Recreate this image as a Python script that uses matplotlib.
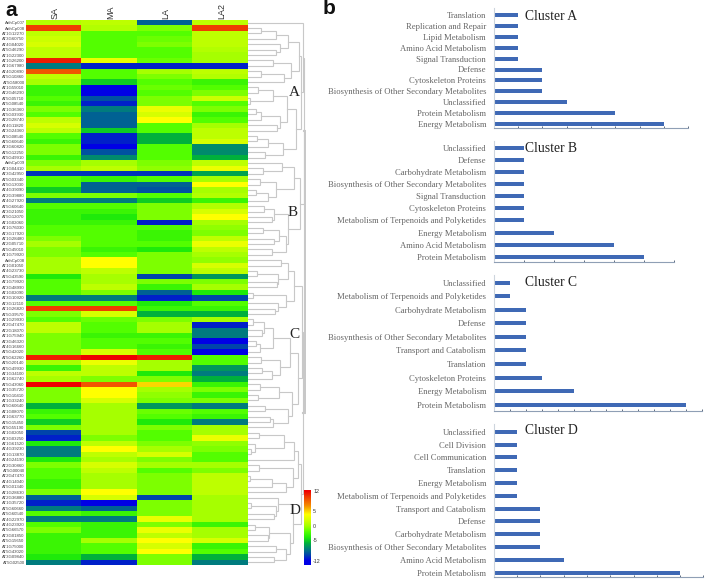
import numpy as np
import matplotlib
matplotlib.use('Agg')
import matplotlib.pyplot as plt
from matplotlib.colors import LinearSegmentedColormap, Normalize

W, H = 709, 586

# heat map values, one list per condition
conditions = ['SA', 'MA', 'LA', 'LA2']
genes = ['ArthCp007', 'ArthCp008', 'AT1G12270', 'AT3G60750', 'AT4G04020', 'AT5G46290', 'AT1G22300', 'AT1G26200', 'AT1G67980', 'AT4G20890',
         'AT5G10860', 'AT5G58000', 'AT1G55010', 'AT2G46290', 'AT5G05710', 'AT5G08540', 'AT1G36360', 'AT5G03930', 'AT2G28740', 'AT4G11820',
         'AT3G24360', 'AT5G08540', 'AT5G60640', 'AT3G60820', 'AT5G12250', 'AT5G49910', 'ArthCp009', 'AT1G04410', 'AT3G42950', 'AT5G03340',
         'AT5G13030', 'AT4G39090', 'AT2G39880', 'AT4G27920', 'AT5G60640', 'AT3G21050', 'AT5G12070', 'AT1G02060', 'AT1G76030', 'AT3G17920',
         'AT1G28480', 'AT2G05710', 'AT5G45010', 'AT1G79920', 'ArthCp008', 'AT1G01050', 'AT4G23730', 'AT5G43590', 'AT1G79920', 'AT3G48990',
         'AT1G02090', 'AT3G10920', 'AT3G12110', 'AT1G26820', 'AT5G39570', 'AT1G29930', 'AT2G47470', 'AT2G18070', 'AT1G75940', 'AT3G46320',
         'AT4G16660', 'AT5G42020', 'AT5G62260', 'AT5G20140', 'AT5G49930', 'AT1G34100', 'AT1G62740', 'AT5G43060', 'AT1G35720', 'AT5G10410',
         'AT1G33240', 'AT5G60640', 'AT1G08070', 'AT1G63770', 'AT5G15450', 'AT5G55190', 'AT1G02050', 'AT3G03250', 'AT1G61520', 'AT4G39230',
         'AT1G13870', 'AT4G24190', 'AT2G30860', 'AT5G00040', 'AT2G47470', 'AT4G14040', 'AT5G01340', 'AT1G28630', 'AT2G36880', 'AT1G35720',
         'AT5G60660', 'AT5G60540', 'AT4G22970', 'AT4G23920', 'AT5G66570', 'AT3G01850', 'AT5G15650', 'AT1G75000', 'AT5G43020', 'AT3G09840',
         'AT5G02500']
sa = [0.5, 10, 1, 1.5, 2, 1, 1, 11, -8, 9,
      1, 0, -3, -3, -2, -3, -1, -2, 1, 2,
      1, -2, -3, -1, -1, -3, -1, 0, -10.5, -2,
      -2, -5, -1, -8, -2, -3, -3, -3, -2, -2,
      -1, 0, -1, -1, 0, 0, 0, -4, -2, -2,
      -2, -8, -2, 10, -1, -2, 1, 1, -1, -1,
      -1, -1, 11, 0, -3, 1, 0, 12, -1, -1,
      -1, -6, -3, -2, -5, -1, -10, -11, -4, -8,
      -8, -4, -1, -2, -2, -3, -3, -1, -9, -11,
      -8, -2, -8, -2, -1, -3, -3, -3, -3, -4,
      -8]
ma = [1, 0.5, -2, -2, -2, -2, -2, 3, -11, -2,
      -2, -5, -12, -12, -9.5, -11, -8, -9, -9, -9,
      -5, -11, -11, -12, -9.5, -7.5, 0, 1, -10.5, -3,
      -9, -9, -1, -8, -2, -3, -4, -3, -2, -2,
      -2, -2, -3, -2, 4, 4, 1, 0, 0, 1,
      -1, -8, -2, 10, 2, -1.5, -2, -2, -3, -2,
      -2, 2, 12, 3, 1, 1, -1, 9, 4, 4,
      2, 0, 0, 0, 0, 0, 0, -1, 1, 4,
      1, 0, 2, 1, 0, 0, 0, 4, 2, -12,
      -9, -3, -8, -3, -3, -3, 0, -2, -2, -6,
      -11]
la = [-9, -1, -2, -1.5, -1, -2, -2, -1.5, -11, 0,
      -1, -2, -1.5, -2, -1, -1, 3, 2, 4, -2,
      -2, -6, -6, -2, -2, -2, -1, -0.5, -10.5, -2,
      -9, -9.5, -2, -5, -1, -1, -1, -11, -2, -3,
      -3, -2, -4, -1, -1, -1, -1, -10, -1, -3,
      -9, -11, -4, -3, -6, -1, 0, 0, -3, -2,
      -3, -2, 11, 0, 0, -4, -1, 5, 0, -0.5,
      -1, -7, -1.5, -2, -4, -1, -2, -2, -1, 0,
      2, -1, 0, -2, -1, -1, -1, -1, -10, -1,
      -1, -1, 3, -1, 3, 1, 4, 2, 4, -1,
      -1]
la2 = [1, 10, 1, 1, 1, 0.5, 0, 0, -11, 1,
       0.5, -3, -2, -1, 1.5, -2, -1, -3, -2, 0,
       1, 1, 2, -7.5, -7.5, -6, 1, 3, -6.5, 0,
       4, 0, 0.5, -3, 0.5, 2, 4, 0, -0.5, -1,
       1, 3, 1, 0, -0.5, 2, 1, -7, -1, 0,
       -4, -10, -2, -3, -6, 0, -11, -8, -8, -12,
       -10, -12, -2, -2, -7, -8, -6, -3, -1, -3,
       -1, -8, -2, -3, -8, 0, 0, 3, -0.5, -1,
       -2, -2, 0, -1, 1, 1, 1, 1, 0, 0,
       0, 0, 0, -3, 0, 0, 2, -3, -2, -6,
       -8]
colorbar_ticks = [12, 5, 0, -5, -12]

# dendrogram, each node is [height, upper child, lower child], a number is a gene row
tree_a = [55, 0, [53,
                  [51, [40, [28, [13, 1, 2], 3], [32, 4, [28, 5, 6]]],
                   [43, [25, 7, 8], [36, [13, 9, 10], 11]]],
                  [48, [39, [25, [10, 12, 13], [2, 14, 15]], [32, [13, [8, 16, 17], 18], [29, 19, 20]]],
                   [35, [20, [9, 21, 22], 23], [17, 24, 25]]]]]
tree_b = [52, [46, [34, 26, [15, 27, 28]], [28, [12, 29, 30], [20, [8, 31, 32], 33]]],
          [40, [26, [16, 34, 35], [24, 36, 37]], [38, [31, [15, 38, 39], [26, 40, 41]], [24, 42, 43]]]]
tree_c = [54, [46, [40, [33, 44, 45], [30, [9, 46, 47], [29, 48, 49]]],
               [38, [5, 50, 51], [30, 52, [27, 53, 54]]]],
          [50, [42, [25, [16, [5, 55, 56], [14, 57, 58]], [12, [8, 59, 60], 61]],
                [32, [13, 62, 63], [24, [14, 64, 65], 66]]],
           [44, [31, [12, 67, 68], [10, 69, 70]], [40, [17, 71, 72], [25, [22, 73, 74], 75]]]]]
tree_d = [53, [50, [46, [36, [11, 76, 77], [7, 78, [3, 79, 80]]], 81],
               [45, [11, 82, 83], [38, [24, [2, 84, 85], 86], 87]]],
          [45, [30, 88, [28, [3, 89, 90], [26, 91, 92]]],
           [42, [21, [7, 93, 94], [20, 95, 96]], [38, [28, 97, 98], [26, 99, 100]]]]]
tree_root = [57, [55.5, tree_a, tree_b], [55, tree_c, tree_d]]

# bar chart data
cats_a = ['Translation', 'Replication and Repair', 'Lipid Metabolism', 'Amino Acid Metabolism', 'Signal Transduction',
          'Defense', 'Cytoskeleton Proteins', 'Biosynthesis of Other Secondary Metabolites', 'Unclassified',
          'Protein Metabolism', 'Energy Metabolism']
vals_a = [1, 1, 1, 1, 1, 2, 2, 2, 3, 5, 7]
cats_b = ['Unclassified', 'Defense', 'Carbohydrate Metabolism', 'Biosynthesis of Other Secondary Metabolites',
          'Signal Transduction', 'Cytoskeleton Proteins', 'Metabolism of Terpenoids and Polyketides',
          'Energy Metabolism', 'Amino Acid Metabolism', 'Protein Metabolism']
vals_b = [1, 1, 1, 1, 1, 1, 1, 2, 4, 5]
cats_c = ['Unclassified', 'Metabolism of Terpenoids and Polyketides', 'Carbohydrate Metabolism', 'Defense',
          'Biosynthesis of Other Secondary Metabolites', 'Transport and Catabolism', 'Translation',
          'Cytoskeleton Proteins', 'Energy Metabolism', 'Protein Metabolism']
vals_c = [1, 1, 2, 2, 2, 2, 2, 3, 5, 12]
cats_d = ['Unclassified', 'Cell Division', 'Cell Communication', 'Translation', 'Energy Metabolism',
          'Metabolism of Terpenoids and Polyketides', 'Transport and Catabolism', 'Defense', 'Carbohydrate Metabolism',
          'Biosynthesis of Other Secondary Metabolites', 'Amino Acid Metabolism', 'Protein Metabolism']
vals_d = [1, 1, 1, 1, 1, 1, 2, 2, 2, 2, 3, 8]

heat_cmap = LinearSegmentedColormap.from_list('heat', [
    (0.0, (0, 0, 0.9)), (2 / 24, (0, 0.27, 0.67)), (4 / 24, (0, 0.49, 0.49)), (6 / 24, (0, 0.69, 0.24)),
    (8 / 24, (0.12, 0.92, 0.04)), (10 / 24, (0.33, 1, 0)), (12 / 24, (0.65, 1, 0)), (14 / 24, (0.84, 1, 0)),
    (16 / 24, (1, 1, 0)), (19 / 24, (0.96, 0.55, 0)), (22 / 24, (0.94, 0.24, 0)), (1.0, (0.94, 0, 0))])
norm = Normalize(-12, 12)

fig = plt.figure(figsize=(W / 100, H / 100), dpi=100)


def px_axes(x0, y0, x1, y1):
    return fig.add_axes([x0 / W, 1 - y1 / H, (x1 - x0) / W, (y1 - y0) / H])


def px_text(x, y, s, **kw):
    return fig.text(x / W, 1 - y / H, s, **kw)


# panel a, heat map
ax = px_axes(26, 20, 247.5, 565)
matrix = np.array([sa, ma, la, la2]).T
ax.imshow(matrix, cmap=heat_cmap, norm=norm, aspect='auto', interpolation='nearest')
ax.set_xticks([])
ax.set_yticks(np.arange(len(genes)))
ax.set_yticklabels(genes, fontsize=3.1, color='#444444', family='Liberation Sans')
ax.tick_params(axis='y', length=0, pad=1)
for s in ax.spines.values():
    s.set_visible(False)
for i, name in enumerate(conditions):
    ax.text(i + 0.03, -0.7, name, rotation=90, ha='center', va='bottom', fontsize=6.5, color='#333333',
            family='Liberation Sans')

# dendrogram next to it
den = px_axes(248, 20, 306, 565)
den.set_xlim(0, 58)
den.set_ylim(len(genes) - 0.5, -0.5)
den.axis('off')
tree_color = '#c8c8c8'


def draw_node(node):
    if not isinstance(node, list):
        return 0, node
    h, up, low = node
    h1, y1 = draw_node(up)
    h2, y2 = draw_node(low)
    lw = 1.5 if node is tree_root else 0.8
    den.plot([h1, h, h, h2], [y1, y1, y2, y2], color=tree_color, lw=lw, solid_joinstyle='miter')
    return h, (y1 + y2) / 2


draw_node(tree_root)

for label, x, y in [('A', 294, 92), ('B', 293, 213), ('C', 294, 335), ('D', 295, 510)]:
    px_text(x, y, label, fontsize=11, family='Liberation Serif', color='#222222', ha='center', va='center')

# colour bar
cax = px_axes(304, 490, 311, 565)
scale = np.linspace(-13.4, 12.3, 200)
cax.imshow(scale[::-1, None], cmap=heat_cmap, norm=norm, aspect='auto', extent=[0, 1, -13.4, 12.3])
cax.set_xticks([])
cax.yaxis.tick_right()
cax.set_yticks(colorbar_ticks)
cax.set_yticklabels([str(v) for v in colorbar_ticks], fontsize=3.8, color='#333333', family='Liberation Sans')
cax.tick_params(axis='y', length=0, pad=1.5)
for s in cax.spines.values():
    s.set_visible(False)

# panel b, one bar chart per cluster
panels = [
    (cats_a, vals_a, 8, 24.3, 14.7, 124.3, 128, 'Cluster A', 17),
    (cats_b, vals_b, 6, 30.0, 148.0, 256.7, 262, 'Cluster B', 149),
    (cats_c, vals_c, 13, 16.0, 282.7, 404.7, 411, 'Cluster C', 283),
    (cats_d, vals_d, 9, 23.3, 431.7, 572.7, 577, 'Cluster D', 431),
]
x_left = 493.7
for cats, vals, xmax, tick_px, y_first, y_last, y_axis, title, title_y in panels:
    step = (y_last - y_first) / (len(cats) - 1)
    y_top = y_first - step * 0.6
    axb = px_axes(x_left, y_top, x_left + xmax * tick_px, y_axis)
    pos = np.arange(len(cats))
    axb.barh(pos, vals, height=4 / step, color='#3f69b5')
    axb.set_xlim(0, xmax)
    axb.set_ylim((y_axis - y_first) / step, (y_top - y_first) / step)
    axb.set_xticks(np.arange(xmax + 1))
    axb.set_xticklabels([])
    axb.tick_params(axis='x', length=1.5, width=0.6, color='#44546a', direction='in', pad=0)
    axb.set_yticks(pos)
    axb.set_yticklabels(cats, fontsize=6.2, color='#666666', family='Liberation Serif')
    axb.tick_params(axis='y', length=0, pad=5.5)
    for side in ['top', 'right']:
        axb.spines[side].set_visible(False)
    axb.spines['left'].set_color('#cdd5dd')
    axb.spines['left'].set_linewidth(0.8)
    axb.spines['bottom'].set_color('#8f9fb5')
    axb.spines['bottom'].set_linewidth(0.8)
    px_text(525, title_y, title, fontsize=9.8, family='Liberation Serif', color='#222222', va='center')

px_text(11, 10, 'a', fontsize=15, fontweight='bold', family='Liberation Sans', ha='center', va='center', color='#111111')
px_text(329, 9, 'b', fontsize=15, fontweight='bold', family='Liberation Sans', ha='center', va='center', color='#111111')

fig.savefig('out.png', dpi=100)
